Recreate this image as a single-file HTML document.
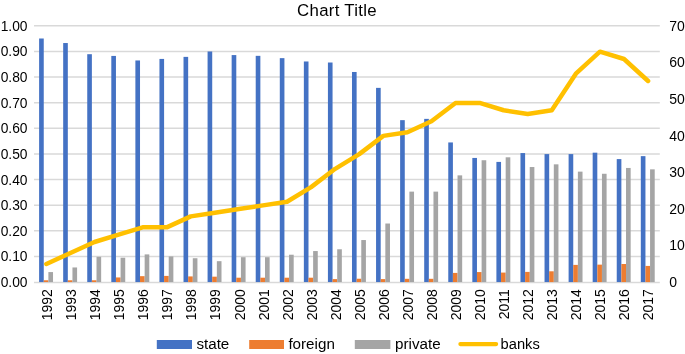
<!DOCTYPE html>
<html lang="en"><head><meta charset="utf-8"><title>Chart Title</title>
<style>html,body{margin:0;padding:0;background:#fff;overflow:hidden}svg{display:block}</style>
</head><body>
<svg width="685" height="354" viewBox="0 0 685 354">
<rect width="685" height="354" fill="#fff"/>
<g stroke="#D9D9D9" stroke-width="1.5" fill="none">
<line x1="34.03" y1="25.87" x2="659.80" y2="25.87"/>
<line x1="34.03" y1="51.49" x2="659.80" y2="51.49"/>
<line x1="34.03" y1="77.11" x2="659.80" y2="77.11"/>
<line x1="34.03" y1="102.73" x2="659.80" y2="102.73"/>
<line x1="34.03" y1="128.35" x2="659.80" y2="128.35"/>
<line x1="34.03" y1="153.97" x2="659.80" y2="153.97"/>
<line x1="34.03" y1="179.58" x2="659.80" y2="179.58"/>
<line x1="34.03" y1="205.20" x2="659.80" y2="205.20"/>
<line x1="34.03" y1="230.82" x2="659.80" y2="230.82"/>
<line x1="34.03" y1="256.44" x2="659.80" y2="256.44"/>
<line x1="34.03" y1="282.46" x2="659.80" y2="282.46"/>
</g>
<g fill="#4472C4">
<rect x="39.11" y="38.50" width="4.64" height="243.56"/>
<rect x="63.18" y="43.03" width="4.64" height="239.03"/>
<rect x="87.24" y="54.20" width="4.64" height="227.86"/>
<rect x="111.31" y="55.92" width="4.64" height="226.14"/>
<rect x="135.38" y="60.46" width="4.64" height="221.60"/>
<rect x="159.45" y="58.92" width="4.64" height="223.14"/>
<rect x="183.52" y="56.87" width="4.64" height="225.19"/>
<rect x="207.58" y="51.49" width="4.64" height="230.57"/>
<rect x="231.65" y="55.08" width="4.64" height="226.98"/>
<rect x="255.72" y="55.84" width="4.64" height="226.22"/>
<rect x="279.79" y="58.15" width="4.64" height="223.91"/>
<rect x="303.86" y="61.48" width="4.64" height="220.58"/>
<rect x="327.92" y="62.51" width="4.64" height="219.55"/>
<rect x="351.99" y="71.98" width="4.64" height="210.08"/>
<rect x="376.06" y="87.87" width="4.64" height="194.19"/>
<rect x="400.13" y="120.15" width="4.64" height="161.91"/>
<rect x="424.20" y="118.87" width="4.64" height="163.19"/>
<rect x="448.27" y="142.44" width="4.64" height="139.62"/>
<rect x="472.33" y="157.94" width="4.64" height="124.12"/>
<rect x="496.40" y="161.91" width="4.64" height="120.15"/>
<rect x="520.47" y="153.07" width="4.64" height="128.99"/>
<rect x="544.54" y="154.09" width="4.64" height="127.97"/>
<rect x="568.61" y="154.09" width="4.64" height="127.97"/>
<rect x="592.67" y="152.68" width="4.64" height="129.38"/>
<rect x="616.74" y="159.09" width="4.64" height="122.97"/>
<rect x="640.81" y="156.14" width="4.64" height="125.92"/>
</g>
<g fill="#ED7D31">
<rect x="43.75" y="280.27" width="4.64" height="1.79"/>
<rect x="67.81" y="280.27" width="4.64" height="1.79"/>
<rect x="91.88" y="280.27" width="4.64" height="1.79"/>
<rect x="115.95" y="277.45" width="4.64" height="4.61"/>
<rect x="140.02" y="276.17" width="4.64" height="5.89"/>
<rect x="164.09" y="275.91" width="4.64" height="6.15"/>
<rect x="188.15" y="276.42" width="4.64" height="5.64"/>
<rect x="212.22" y="276.68" width="4.64" height="5.38"/>
<rect x="236.29" y="277.70" width="4.64" height="4.36"/>
<rect x="260.36" y="277.70" width="4.64" height="4.36"/>
<rect x="284.43" y="277.70" width="4.64" height="4.36"/>
<rect x="308.49" y="277.70" width="4.64" height="4.36"/>
<rect x="332.56" y="279.11" width="4.64" height="2.95"/>
<rect x="356.63" y="278.73" width="4.64" height="3.33"/>
<rect x="380.70" y="279.11" width="4.64" height="2.95"/>
<rect x="404.77" y="278.81" width="4.64" height="3.25"/>
<rect x="428.83" y="278.81" width="4.64" height="3.25"/>
<rect x="452.90" y="272.91" width="4.64" height="9.15"/>
<rect x="476.97" y="272.07" width="4.64" height="9.99"/>
<rect x="501.04" y="272.58" width="4.64" height="9.48"/>
<rect x="525.11" y="271.89" width="4.64" height="10.17"/>
<rect x="549.17" y="271.30" width="4.64" height="10.76"/>
<rect x="573.24" y="264.90" width="4.64" height="17.16"/>
<rect x="597.31" y="264.64" width="4.64" height="17.42"/>
<rect x="621.38" y="264.00" width="4.64" height="18.06"/>
<rect x="645.45" y="265.92" width="4.64" height="16.14"/>
</g>
<g fill="#A5A5A5">
<rect x="48.38" y="272.07" width="4.64" height="9.99"/>
<rect x="72.45" y="267.46" width="4.64" height="14.60"/>
<rect x="96.52" y="256.80" width="4.64" height="25.26"/>
<rect x="120.59" y="257.72" width="4.64" height="24.34"/>
<rect x="144.66" y="254.39" width="4.64" height="27.67"/>
<rect x="168.72" y="256.44" width="4.64" height="25.62"/>
<rect x="192.79" y="258.23" width="4.64" height="23.83"/>
<rect x="216.86" y="261.18" width="4.64" height="20.88"/>
<rect x="240.93" y="257.21" width="4.64" height="24.85"/>
<rect x="265.00" y="257.21" width="4.64" height="24.85"/>
<rect x="289.06" y="254.72" width="4.64" height="27.34"/>
<rect x="313.13" y="251.06" width="4.64" height="31.00"/>
<rect x="337.20" y="249.27" width="4.64" height="32.79"/>
<rect x="361.27" y="240.04" width="4.64" height="42.02"/>
<rect x="385.34" y="223.52" width="4.64" height="58.54"/>
<rect x="409.40" y="191.62" width="4.64" height="90.44"/>
<rect x="433.47" y="191.62" width="4.64" height="90.44"/>
<rect x="457.54" y="175.36" width="4.64" height="106.70"/>
<rect x="481.61" y="160.24" width="4.64" height="121.82"/>
<rect x="505.68" y="157.30" width="4.64" height="124.76"/>
<rect x="529.74" y="167.03" width="4.64" height="115.03"/>
<rect x="553.81" y="164.34" width="4.64" height="117.72"/>
<rect x="577.88" y="171.64" width="4.64" height="110.42"/>
<rect x="601.95" y="173.77" width="4.64" height="108.29"/>
<rect x="626.02" y="167.95" width="4.64" height="114.11"/>
<rect x="650.08" y="169.34" width="4.64" height="112.72"/>
</g>
<polyline points="46.36,263.96 70.43,252.98 94.50,242.00 118.57,234.68 142.64,227.36 166.70,227.36 190.77,216.38 214.84,212.72 238.91,209.06 262.98,205.40 287.04,201.74 311.11,187.10 335.18,168.80 359.25,154.16 383.32,135.87 407.39,132.21 431.45,121.23 455.52,102.93 479.59,102.93 503.66,110.25 527.73,113.91 551.79,110.25 575.86,73.65 599.93,51.69 624.00,59.01 648.07,80.97" fill="none" stroke="#FFC000" stroke-width="4.5" stroke-linecap="round" stroke-linejoin="round"/>
<g font-family="'Liberation Sans', Arial, sans-serif" fill="#000">
<text x="337" y="16.3" font-size="16.8" letter-spacing="0.3" text-anchor="middle">Chart Title</text>
<g font-size="14">
<text x="27.5" y="30.87" font-size="13.8" text-anchor="end">1.00</text>
<text x="27.5" y="56.49" font-size="13.8" text-anchor="end">0.90</text>
<text x="27.5" y="82.11" font-size="13.8" text-anchor="end">0.80</text>
<text x="27.5" y="107.73" font-size="13.8" text-anchor="end">0.70</text>
<text x="27.5" y="133.35" font-size="13.8" text-anchor="end">0.60</text>
<text x="27.5" y="158.97" font-size="13.8" text-anchor="end">0.50</text>
<text x="27.5" y="184.58" font-size="13.8" text-anchor="end">0.40</text>
<text x="27.5" y="210.20" font-size="13.8" text-anchor="end">0.30</text>
<text x="27.5" y="235.82" font-size="13.8" text-anchor="end">0.20</text>
<text x="27.5" y="261.44" font-size="13.8" text-anchor="end">0.10</text>
<text x="27.5" y="287.06" font-size="13.8" text-anchor="end">0.00</text>
<text x="669.3" y="30.87">70</text>
<text x="669.3" y="67.47">60</text>
<text x="669.3" y="104.07">50</text>
<text x="669.3" y="140.67">40</text>
<text x="669.3" y="177.26">30</text>
<text x="669.3" y="213.86">20</text>
<text x="669.3" y="250.46">10</text>
<text x="669.3" y="287.06">0</text>
<text transform="translate(52.26,289.2) rotate(-90)" text-anchor="end">1992</text>
<text transform="translate(76.29,289.2) rotate(-90)" text-anchor="end">1993</text>
<text transform="translate(100.32,289.2) rotate(-90)" text-anchor="end">1994</text>
<text transform="translate(124.35,289.2) rotate(-90)" text-anchor="end">1995</text>
<text transform="translate(148.38,289.2) rotate(-90)" text-anchor="end">1996</text>
<text transform="translate(172.41,289.2) rotate(-90)" text-anchor="end">1997</text>
<text transform="translate(196.44,289.2) rotate(-90)" text-anchor="end">1998</text>
<text transform="translate(220.47,289.2) rotate(-90)" text-anchor="end">1999</text>
<text transform="translate(244.50,289.2) rotate(-90)" text-anchor="end">2000</text>
<text transform="translate(268.53,289.2) rotate(-90)" text-anchor="end">2001</text>
<text transform="translate(292.56,289.2) rotate(-90)" text-anchor="end">2002</text>
<text transform="translate(316.59,289.2) rotate(-90)" text-anchor="end">2003</text>
<text transform="translate(340.62,289.2) rotate(-90)" text-anchor="end">2004</text>
<text transform="translate(364.65,289.2) rotate(-90)" text-anchor="end">2005</text>
<text transform="translate(388.68,289.2) rotate(-90)" text-anchor="end">2006</text>
<text transform="translate(412.71,289.2) rotate(-90)" text-anchor="end">2007</text>
<text transform="translate(436.74,289.2) rotate(-90)" text-anchor="end">2008</text>
<text transform="translate(460.77,289.2) rotate(-90)" text-anchor="end">2009</text>
<text transform="translate(484.80,289.2) rotate(-90)" text-anchor="end">2010</text>
<text transform="translate(508.83,289.2) rotate(-90)" text-anchor="end">2011</text>
<text transform="translate(532.86,289.2) rotate(-90)" text-anchor="end">2012</text>
<text transform="translate(556.89,289.2) rotate(-90)" text-anchor="end">2013</text>
<text transform="translate(580.92,289.2) rotate(-90)" text-anchor="end">2014</text>
<text transform="translate(604.95,289.2) rotate(-90)" text-anchor="end">2015</text>
<text transform="translate(628.98,289.2) rotate(-90)" text-anchor="end">2016</text>
<text transform="translate(653.01,289.2) rotate(-90)" text-anchor="end">2017</text>
</g>
<g font-size="15.2">
<text x="196.4" y="349">state</text>
<text x="288.4" y="349">foreign</text>
<text x="395.0" y="349">private</text>
<text x="500.6" y="349" font-size="14.7">banks</text>
</g>
</g>
<rect x="156.8" y="340" width="35.2" height="9" fill="#4472C4"/>
<rect x="249.2" y="340" width="34.8" height="9" fill="#ED7D31"/>
<rect x="354.8" y="340" width="35.6" height="9" fill="#A5A5A5"/>
<line x1="460.4" y1="344.1" x2="496.1" y2="344.1" stroke="#FFC000" stroke-width="4.2" stroke-linecap="round"/>
</svg>
</body></html>
